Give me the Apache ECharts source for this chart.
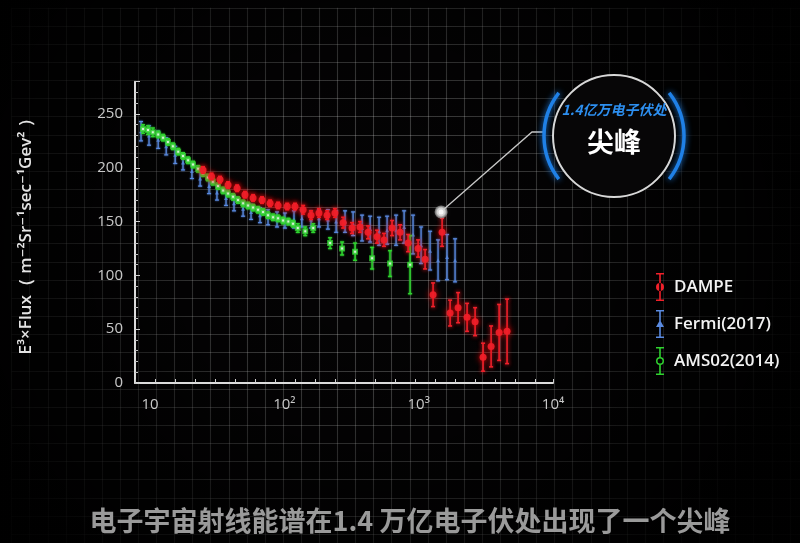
<!DOCTYPE html>
<html><head><meta charset="utf-8">
<script src="https://cdn.jsdelivr.net/npm/echarts@6/dist/echarts.min.js"></script>
<style>html,body{margin:0;padding:0;background:#040304;}#c{width:800px;height:543px;}</style>
</head><body><div id="c"></div>
<script>
// ---- data ----
const xTickLabels = ['10', '10²', '10³', '10⁴'];
const yTickStep = 50;
const seriesNames = ['DAMPE', 'Fermi(2017)', 'AMS02(2014)'];

const dampeE = [24.8,28.7,33.2,38.1,44.5,50.9,58.5,68.2,78.3,89.8,105,120,138,158,181,208,238,274,319,366,420,490,552,634,727,834,990,1116,1280,1494,1714,1965,2293,2630,3017,3461,3970,4550];
const dampeV = [198,192,189,184,181,175,172,170,167,165,164,164,161,156,158,156,158,149,144,145,140,136,133,144,140,130,125,115,82,140,65,70,61,57,24,34,47,48];
const dampeErr = [3,3,3,3,3,3,3,3,3,3,3,3,4,4,4,4,4,5,5,5,6,6,6,7,7,8,8,9,11,13,12,14,13,13,13,19,26,30];

const fermiE = [8.57,9.83,11.5,13.2,15.4,17.6,20.5,23.6,27.5,31.5,36.8,42.2,49.3,56.5,65.9,75.6,88.2,101,118,135,158,181,211,243,283,325,379,435,507,582,679,779,908,1042,1216,1394,1626,1866];
const fermiV = [234,230,226,220,212,205,197,190,183,177,172,167,162,159,156,154,152,151,152,153,152,153,152,150,150,148,144,143,141,142,142,145,138,128,123,114,117,114];
const fermiErr = [9,9,8,8,8,7,7,7,7,7,7,7,7,7,7,7,7,7,8,8,8,8,9,10,10,11,12,12,13,13,14,15,18,17,18,19,21,20];

const amsE = [8.87,9.66,10.5,11.5,12.5,13.6,14.8,16.2,17.6,19.2,20.9,22.8,24.8,27.0,29.4,32.1,35.0,38.1,41.5,45.2,49.3,53.7,58.5,63.7,69.4,75.6,82.4,89.8,97.8,107,116,126,143,164,219,269,336,450,612,863];
const amsV = [236,235,233,231,228,224,220,215,211,207,203,199,195,191,187,183,179,176,173,170,167,165,163,161,159,156,154,153,151,150,148,144,141,144,130,125,122,116,111,110];
const amsErr = [4,4,4,3,3,3,3,3,3,3,3,3,3,3,3,3,3,3,3,3,3,3,3,3,3,3,3,3,3,3,3,4,4,4,5,6,8,10,12,27];

const peakE = [1469];
const peakV = [159];

const calloutSmall = '1.4亿万电子伏处';
const calloutBig = '尖峰';
const caption = '电子宇宙射线能谱在1.4 万亿电子伏处出现了一个尖峰';
const yName = 'E³×Flux（ m⁻²Sr⁻¹sec⁻¹Gev² ）';

// ---- build ----
const RED = '#f0202a', BLUE = '#5a8ae0', GREEN = '#2fd22f';
function pts(E, V) { return E.map((e, i) => [e, V[i]]); }
function bars(E, V, Er) { return E.map((e, i) => [e, V[i] - Er[i], V[i] + Er[i]]); }
function errRender(color, cap, lw, glow) {
  return function (params, api) {
    const x = api.value(0), lo = api.value(1), hi = api.value(2);
    const p1 = api.coord([x, lo]), p2 = api.coord([x, hi]);
    const style = { stroke: color, lineWidth: lw, shadowBlur: glow, shadowColor: color };
    return { type: 'group', children: [
      { type: 'line', shape: { x1: p1[0], y1: p1[1], x2: p2[0], y2: p2[1] }, style },
      { type: 'line', shape: { x1: p1[0] - cap, y1: p1[1], x2: p1[0] + cap, y2: p1[1] }, style },
      { type: 'line', shape: { x1: p2[0] - cap, y1: p2[1], x2: p2[0] + cap, y2: p2[1] }, style }
    ] };
  };
}
const capRects = 'M0,0 h8 v1.6 h-8 z M0,26.4 h8 v1.6 h-8 z ';
const iconD = 'path://' + capRects + 'M3.2,0 h1.6 v28 h-1.6 z M0,14 a4,4 0 1,0 8,0 a4,4 0 1,0 -8,0 z';
const iconF = 'path://' + capRects + 'M3.2,0 h1.6 v28 h-1.6 z M4,10 L8,17 L0,17 z';
const iconA = 'path://' + capRects + 'M3.2,0 h1.6 v10 h-1.6 z M3.2,18 h1.6 v10 h-1.6 z M0,14 a4,4 0 1,0 8,0 a4,4 0 1,0 -8,0 z M1.5,14 a2.5,2.5 0 1,1 5,0 a2.5,2.5 0 1,1 -5,0 z';

const chart = echarts.init(document.getElementById('c'), null, { renderer: 'canvas' });
const axisFont = 'Open Sans';
const gridLine = { show: true, lineStyle: { color: 'rgba(255,255,255,0.26)', width: 1.1 } };
const option = {
  backgroundColor: '#040304',
  animation: false,
  grid: [
    { left: 135, right: 247, top: 81.7, bottom: 160 },
    { left: 11.6, right: 0, top: 7.8, bottom: 0 }
  ],
  xAxis: [
    { type: 'log', logBase: 10, gridIndex: 0, min: 7.73, max: 10000, z: 5,
      axisLine: { show: true, onZero: false, lineStyle: { color: '#dcdcdc', width: 2 } },
      axisTick: { show: false }, splitLine: { show: false }, minorTick: { show: false },
      axisLabel: { color: '#c8c8c8', fontSize: 15, fontFamily: axisFont, margin: 14, showMinLabel: false,
        formatter: function (v) { const l = Math.log10(v), e = Math.round(l);
          if (Math.abs(l - e) > 1e-6 || e < 1) return ''; return xTickLabels[e - 1] || ''; } } },
    { type: 'value', gridIndex: 0, min: 0, max: 418, interval: 20, position: 'bottom', z: 5,
      axisLine: { show: false }, axisLabel: { show: false }, splitLine: { show: false },
      axisTick: { show: true, inside: true, length: 4, lineStyle: { color: '#cfcfcf', width: 1 } } },
    { type: 'value', gridIndex: 1, min: 0, max: 43.56, interval: 1, z: 0,
      axisLine: { show: false }, axisTick: { show: false }, axisLabel: { show: false }, splitLine: gridLine }
  ],
  yAxis: [
    { type: 'value', gridIndex: 0, min: 0, max: 280, interval: yTickStep, z: 5,
      name: yName, nameLocation: 'middle', nameRotate: 90, nameGap: 100,
      nameTextStyle: { color: '#e4e4e4', fontSize: 17, fontWeight: 600, fontFamily: 'Open Sans, DejaVu Sans' },
      axisLine: { show: true, lineStyle: { color: '#dcdcdc', width: 2 } },
      axisTick: { show: true, inside: true, length: 5, lineStyle: { color: '#cfcfcf' } },
      minorTick: { show: true, splitNumber: 5, length: 3, lineStyle: { color: '#bfbfbf' } },
      splitLine: { show: false },
      axisLabel: { color: '#c8c8c8', fontSize: 15, fontFamily: axisFont, margin: 12, showMaxLabel: false,
        formatter: v => (v % yTickStep === 0 ? String(v) : '') } },
    { type: 'value', gridIndex: 1, min: 0, max: 29.49, interval: 1, inverse: true, z: 0,
      axisLine: { show: false }, axisTick: { show: false }, axisLabel: { show: false }, splitLine: gridLine }
  ],
  legend: {
    orient: 'vertical', left: 651, top: 268, itemWidth: 8, itemHeight: 28, itemGap: 9,
    textStyle: { color: '#f2f2f2', fontSize: 17, fontWeight: 600, fontFamily: axisFont, padding: [0, 0, 0, 5] },
    data: [
      { name: seriesNames[0], icon: iconD },
      { name: seriesNames[1], icon: iconF },
      { name: seriesNames[2], icon: iconA }
    ]
  },
  series: [
    { name: seriesNames[1], type: 'custom', xAxisIndex: 0, yAxisIndex: 0, z: 6,
      renderItem: errRender(BLUE, 2, 1.2, 2), encode: { x: 0, y: [1, 2] },
      itemStyle: { color: BLUE }, data: bars(fermiE, fermiV, fermiErr) },
    { name: seriesNames[1], type: 'scatter', xAxisIndex: 0, yAxisIndex: 0, z: 6, symbol: 'triangle', symbolSize: 4,
      itemStyle: { color: BLUE }, data: pts(fermiE, fermiV) },
    { name: seriesNames[2], type: 'custom', xAxisIndex: 0, yAxisIndex: 0, z: 7,
      renderItem: errRender(GREEN, 2, 1.4, 2), encode: { x: 0, y: [1, 2] },
      itemStyle: { color: GREEN }, data: bars(amsE, amsV, amsErr) },
    { name: seriesNames[2], type: 'scatter', xAxisIndex: 0, yAxisIndex: 0, z: 7, symbol: 'emptyRect', symbolSize: 4,
      itemStyle: { color: GREEN, borderWidth: 1.2 }, data: pts(amsE, amsV) },
    { name: seriesNames[0], type: 'custom', xAxisIndex: 0, yAxisIndex: 0, z: 8,
      renderItem: errRender(RED, 2, 1.6, 4), encode: { x: 0, y: [1, 2] },
      itemStyle: { color: RED }, data: bars(dampeE, dampeV, dampeErr) },
    { name: seriesNames[0], type: 'scatter', xAxisIndex: 0, yAxisIndex: 0, z: 8, symbol: 'circle', symbolSize: 7,
      itemStyle: { color: RED, opacity: 0.92, shadowBlur: 6, shadowColor: '#ff0000' }, data: pts(dampeE, dampeV) },
    { name: 'peakRing', type: 'scatter', xAxisIndex: 0, yAxisIndex: 0, z: 9, symbol: 'emptyCircle', symbolSize: 11,
      itemStyle: { color: '#8a8a8a', borderWidth: 1 }, data: pts(peakE, peakV) },
    { name: 'peakDot', type: 'scatter', xAxisIndex: 0, yAxisIndex: 0, z: 10, symbol: 'circle', symbolSize: 5,
      itemStyle: { color: '#ffffff', shadowBlur: 6, shadowColor: '#ffffff' }, data: pts(peakE, peakV) }
  ]
};
chart.setOption(option);

const p = chart.convertToPixel({ xAxisIndex: 0, yAxisIndex: 0 }, [peakE[0], peakV[0]]);
const cx = 614, cy = 136;
chart.setOption({
  graphic: [
    { type: 'rect', id: 'vig', z: 1, silent: true, shape: { x: 0, y: 0, width: 800, height: 543 },
      style: { fill: { type: 'radial', x: 0.47, y: 0.45, r: 0.8,
        colorStops: [{ offset: 0, color: 'rgba(0,0,0,0)' }, { offset: 0.35, color: 'rgba(0,0,0,0.2)' }, { offset: 0.75, color: 'rgba(0,0,0,0.75)' }, { offset: 1, color: 'rgba(0,0,0,0.95)' }] } } },
    { type: 'polyline', id: 'lead', z: 20, shape: { points: [[p[0] + 3, p[1] - 3], [532, 132], [545, 132]] },
      style: { stroke: '#c8c8c8', lineWidth: 1.3, fill: null } },
    { type: 'circle', id: 'ring', z: 21, shape: { cx: cx, cy: cy, r: 61 },
      style: { fill: '#070607', stroke: '#d8d8d8', lineWidth: 2 } },
    { type: 'arc', id: 'arcL', z: 21, shape: { cx: cx, cy: cy, r: 70, startAngle: Math.PI * (180 - 38) / 180, endAngle: Math.PI * (180 + 38) / 180 },
      style: { stroke: '#1f80e6', lineWidth: 3.5, fill: null, shadowBlur: 6, shadowColor: '#1f80e6' } },
    { type: 'arc', id: 'arcR', z: 21, shape: { cx: cx, cy: cy, r: 70, startAngle: -Math.PI * 38 / 180, endAngle: Math.PI * 38 / 180 },
      style: { stroke: '#1f80e6', lineWidth: 3.5, fill: null, shadowBlur: 6, shadowColor: '#1f80e6' } },
    { type: 'text', id: 't1', z: 22, x: cx, y: 110,
      style: { text: calloutSmall, fill: '#2d8ff0', font: 'italic bold 14px "Noto Sans CJK SC"', align: 'center', verticalAlign: 'middle' } },
    { type: 'text', id: 't2', z: 22, x: cx, y: 142,
      style: { text: calloutBig, fill: '#ffffff', font: 'bold 27px "Noto Sans CJK SC"', align: 'center', verticalAlign: 'middle' } },
    { type: 'text', id: 'cap', z: 22, x: 410, y: 521,
      style: { text: caption, fill: '#9a9a9a', font: 'bold 27px "Noto Sans CJK SC"', align: 'center', verticalAlign: 'middle' } }
  ]
});
</script></body></html>
